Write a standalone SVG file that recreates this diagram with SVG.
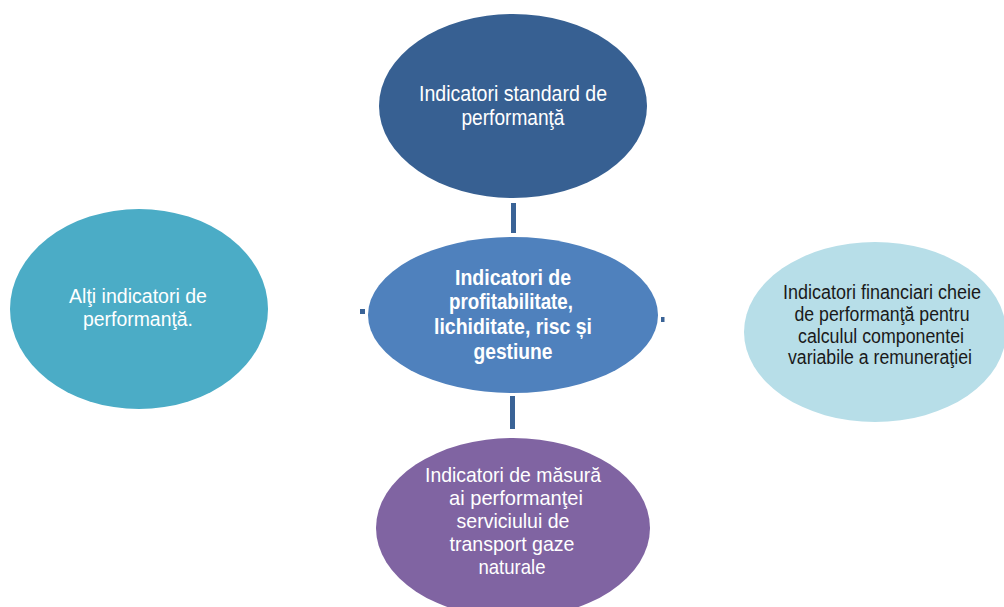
<svg xmlns="http://www.w3.org/2000/svg" width="1004" height="607" viewBox="0 0 1004 607">
<style>
  text { font-family: "Liberation Sans Narrow", "Liberation Sans", Arial, sans-serif; text-anchor: middle; }
  .w { fill: #ffffff; font-size: 22px; }
  .b { fill: #ffffff; font-size: 22px; font-weight: bold; }
  .d { fill: #1a1a1a; font-size: 20px; }
  .conn { fill: #3a6396; }
</style>
<rect width="1004" height="607" fill="#ffffff"/>
<g id="connectors">
  <rect class="conn" x="511" y="203" width="5" height="30"/>
  <rect class="conn" x="510" y="396" width="5" height="33"/>
  <rect class="conn" x="360" y="309" width="5" height="5"/>
  <rect class="conn" x="661" y="317" width="3.5" height="5"/>
</g>
<g id="node-top">
  <ellipse cx="513" cy="106" rx="134" ry="92" fill="#376092"/>
  <text class="w"><tspan x="513" y="101" textLength="188" lengthAdjust="spacingAndGlyphs">Indicatori standard de</tspan><tspan x="513" y="125" textLength="103" lengthAdjust="spacingAndGlyphs">performanţă</tspan></text>
</g>
<g id="node-center">
  <ellipse cx="513" cy="315" rx="145" ry="78" fill="#4f81bd"/>
  <text class="b"><tspan x="513" y="285" textLength="116" lengthAdjust="spacingAndGlyphs">Indicatori de</tspan><tspan x="511" y="309" textLength="124" lengthAdjust="spacingAndGlyphs">profitabilitate,</tspan><tspan x="513" y="334" textLength="158" lengthAdjust="spacingAndGlyphs">lichiditate, risc și</tspan><tspan x="513" y="359" textLength="79" lengthAdjust="spacingAndGlyphs">gestiune</tspan></text>
</g>
<g id="node-left">
  <ellipse cx="139" cy="309" rx="129" ry="100" fill="#4bacc6"/>
  <text class="w" style="font-size:20px"><tspan x="138" y="303" textLength="138" lengthAdjust="spacingAndGlyphs">Alţi indicatori de</tspan><tspan x="138" y="326" textLength="110" lengthAdjust="spacingAndGlyphs">performanţă.</tspan></text>
</g>
<g id="node-right">
  <ellipse cx="875" cy="332" rx="131" ry="90" fill="#b7dee8"/>
  <text class="d"><tspan x="882" y="299" textLength="198" lengthAdjust="spacingAndGlyphs">Indicatori financiari cheie</tspan><tspan x="882" y="321" textLength="175" lengthAdjust="spacingAndGlyphs">de performanţă pentru</tspan><tspan x="881" y="343" textLength="166" lengthAdjust="spacingAndGlyphs">calculul componentei</tspan><tspan x="880" y="364" textLength="184" lengthAdjust="spacingAndGlyphs">variabile a remuneraţiei</tspan></text>
</g>
<g id="node-bottom">
  <ellipse cx="513" cy="528" rx="137" ry="90" fill="#8064a2"/>
  <text class="w" style="font-size:21px"><tspan x="513" y="482" textLength="176" lengthAdjust="spacingAndGlyphs">Indicatori de măsură</tspan><tspan x="516" y="505" textLength="134" lengthAdjust="spacingAndGlyphs">ai performanţei</tspan><tspan x="513" y="528" textLength="113" lengthAdjust="spacingAndGlyphs">serviciului de</tspan><tspan x="512" y="551" textLength="125" lengthAdjust="spacingAndGlyphs">transport gaze</tspan><tspan x="512" y="574" textLength="67" lengthAdjust="spacingAndGlyphs">naturale</tspan></text>
</g>
</svg>
